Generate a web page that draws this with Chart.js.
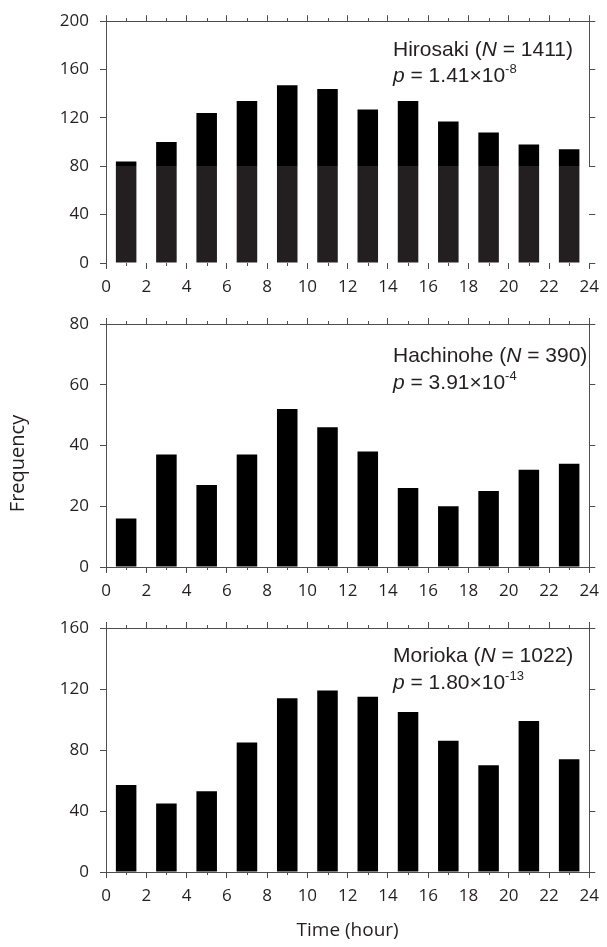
<!DOCTYPE html>
<html><head><meta charset="utf-8">
<script src="https://cdn.jsdelivr.net/npm/chart.js@4.4.1/dist/chart.umd.min.js"></script>
<style>
html,body{margin:0;padding:0;background:#fff;}
body{width:607px;height:947px;position:relative;overflow:hidden;}
.p{position:absolute;left:0;width:607px;}
canvas{display:block;}
</style></head><body>
<div class="p" style="top:0;height:300px"><canvas id="c1"></canvas></div>
<div class="p" style="top:300px;height:305px"><canvas id="c2"></canvas></div>
<div class="p" style="top:605px;height:342px"><canvas id="c3"></canvas></div>
<script>
// ---- data ----
const hours = [1, 3, 5, 7, 9, 11, 13, 15, 17, 19, 21, 23];
const xTickLabels = [0, 2, 4, 6, 8, 10, 12, 14, 16, 18, 20, 22, 24];
const hirosaki  = [84, 100, 124, 134, 147, 144, 127, 134, 117, 108, 98, 94];
const hachinohe = [16, 37, 27, 37, 52, 46, 38, 26, 20, 25, 32, 34];
const morioka   = [57, 45, 53, 85, 114, 119, 115, 105, 86, 70, 99, 74];
const stationNames = ['Hirosaki', 'Hachinohe', 'Morioka'];
const stationN = [1411, 390, 1022];
const pMantissa = ['1.41', '3.91', '1.80'];
const pExponent = ['-8', '-4', '-13'];
const yMax = [200, 80, 160];
const yStep = [40, 20, 40];
const xTitle = 'Time (hour)';
const yTitle = 'Frequency';

// ---- style ----
const AX = '#4d4d4d';
const TXT = '#231f20';
const TICK_FONT = {family: "'Open Sans'", size: 17};
const ANN_FAMILY = "'Liberation Sans', Arial, sans-serif";

const annotPlugin = {
  id: 'annot',
  afterDraw(chart, args, o) {
    const {ctx, chartArea} = chart;
    ctx.save();
    ctx.fillStyle = TXT;
    ctx.textBaseline = 'alphabetic';
    ctx.textAlign = 'left';
    const runs = (x, y, list) => {
      for (const r of list) {
        ctx.font = r.f;
        ctx.fillText(r.t, x, y + (r.dy || 0));
        x += ctx.measureText(r.t).width;
      }
    };
    const x0 = chartArea.left + o.dx;
    const n = '21px ' + ANN_FAMILY, it = 'italic 21px ' + ANN_FAMILY, sm = '13px ' + ANN_FAMILY;
    runs(x0, chartArea.top + o.l1, [
      {t: o.name + ' (', f: n}, {t: 'N', f: it}, {t: ' = ' + o.N + ')', f: n}]);
    runs(x0, chartArea.top + o.l2, [
      {t: 'p', f: it}, {t: ' = ' + o.mant + '\u00d710', f: n}, {t: o.exp, f: sm, dy: -9}]);
    // minor ticks (every hour) on bottom and top axes
    const xs = chart.scales.x;
    ctx.strokeStyle = AX; ctx.lineWidth = 1;
    ctx.beginPath();
    for (let v = xs.min; v <= xs.max; v++) {
      if (xTickLabels.includes(v)) continue;
      const px = Math.round(xs.getPixelForValue(v)) + 0.5;
      const b = Math.round(chartArea.bottom), t = Math.round(chartArea.top);
      ctx.moveTo(px, b); ctx.lineTo(px, b + 3);
      ctx.moveTo(px, t); ctx.lineTo(px, t - 3);
    }
    ctx.stroke();
    // partial right border
    if (o.rightTo !== null) {
      const ys = chart.scales.y;
      const rx = Math.round(chartArea.right) + 0.5;
      ctx.beginPath();
      ctx.moveTo(rx, ys.getPixelForValue(ys.max) - 0.5);
      ctx.lineTo(rx, ys.getPixelForValue(o.rightTo));
      ctx.stroke();
    }
    // y title
    if (o.yTitle) {
      ctx.translate(o.yTitleX, (chartArea.top + chartArea.bottom) / 2 + o.yTitleDy);
      ctx.rotate(-Math.PI / 2);
      ctx.font = "20px 'Open Sans'";
      ctx.textAlign = 'center';
      ctx.textBaseline = 'middle';
      ctx.fillText(o.yTitle, 0, 0);
    }
    ctx.restore();
  }
};

const layouts = [
  {id: 'c1', H: 300, top: 18, bottom: 263, bottomBorder: false, rightTo: 80, split: 80, l1: 35, l2: 61},
  {id: 'c2', H: 305, top: 24, bottom: 267, bottomBorder: true, rightTo: null, split: null, l1: 38, l2: 65},
  {id: 'c3', H: 342, top: 23, bottom: 267, bottomBorder: true, rightTo: null, split: null, l1: 34, l2: 61}
];
const series = [hirosaki, hachinohe, morioka];

function xScaleBase() {
  return {
    type: 'linear', min: 0, max: 24, offset: false,
    afterBuildTicks: s => { s.ticks = xTickLabels.map(v => ({value: v})); },
    grid: {display: true, drawOnChartArea: false, drawTicks: true, tickLength: 6, color: AX, lineWidth: 1, offset: false},
  };
}

layouts.forEach((L, i) => {
  const values = series[i];
  const bg = L.split === null ? '#000' : (ctx) => {
    const chart = ctx.chart, ca = chart.chartArea;
    if (!ca) return '#000';
    const yp = chart.scales.y.getPixelForValue(L.split);
    const g = chart.ctx.createLinearGradient(0, ca.top, 0, ca.bottom);
    const t = Math.min(1, Math.max(0, (yp - ca.top) / (ca.bottom - ca.top)));
    g.addColorStop(0, '#000'); g.addColorStop(t, '#000');
    g.addColorStop(t, '#231f20'); g.addColorStop(1, '#231f20');
    return g;
  };
  const isLast = i === layouts.length - 1;
  new Chart(document.getElementById(L.id), {
    type: 'bar',
    data: {
      datasets: [{
        data: hours.map((h, k) => ({x: h, y: values[k]})),
        backgroundColor: bg, borderWidth: 0,
        categoryPercentage: 0.51, barPercentage: 1,
        xAxisID: 'x', yAxisID: 'y'
      }]
    },
    options: {
      responsive: true, maintainAspectRatio: false, animation: false,
      devicePixelRatio: 1,
      layout: {padding: 0},
      events: [],
      plugins: {
        legend: {display: false}, tooltip: {enabled: false},
        annot: {dx: 287, l1: L.l1, l2: L.l2, name: stationNames[i], N: stationN[i],
                mant: pMantissa[i], exp: pExponent[i], rightTo: L.rightTo,
                yTitle: i === 1 ? yTitle : null, yTitleX: 18, yTitleDy: 18}
      },
      scales: {
        x: Object.assign(xScaleBase(), {
          position: 'bottom',
          afterFit: s => { s.height = L.H - L.bottom; },
          border: {display: L.bottomBorder, color: AX, width: 1},
          ticks: {color: TXT, font: TICK_FONT, padding: 8, maxRotation: 0, autoSkip: false},
          title: isLast ? {display: true, text: xTitle, color: TXT,
                 font: {family: "'Open Sans'", size: 19}, padding: {top: 0, bottom: 5}} : {display: false}
        }),
        xTop: Object.assign(xScaleBase(), {
          position: 'top',
          afterFit: s => { s.height = L.top; },
          border: {display: true, color: AX, width: 1},
          ticks: {display: false}
        }),
        y: {
          type: 'linear', position: 'left', min: 0, max: yMax[i],
          afterFit: s => { s.width = 106; },
          ticks: {stepSize: yStep[i], color: TXT, font: TICK_FONT, padding: 11},
          grid: {display: true, drawOnChartArea: false, drawTicks: true, tickLength: 6, color: AX, lineWidth: 1},
          border: {display: true, color: AX, width: 1}
        },
        yRight: {
          type: 'linear', position: 'right', min: 0, max: yMax[i],
          afterFit: s => { s.width = 13; },
          ticks: {stepSize: yStep[i], display: false},
          grid: {display: true, drawOnChartArea: false, drawTicks: true, tickLength: 6, color: AX, lineWidth: 1},
          border: {display: L.rightTo === null, color: AX, width: 1}
        }
      }
    },
    plugins: [annotPlugin]
  });
});
</script>
</body></html>
